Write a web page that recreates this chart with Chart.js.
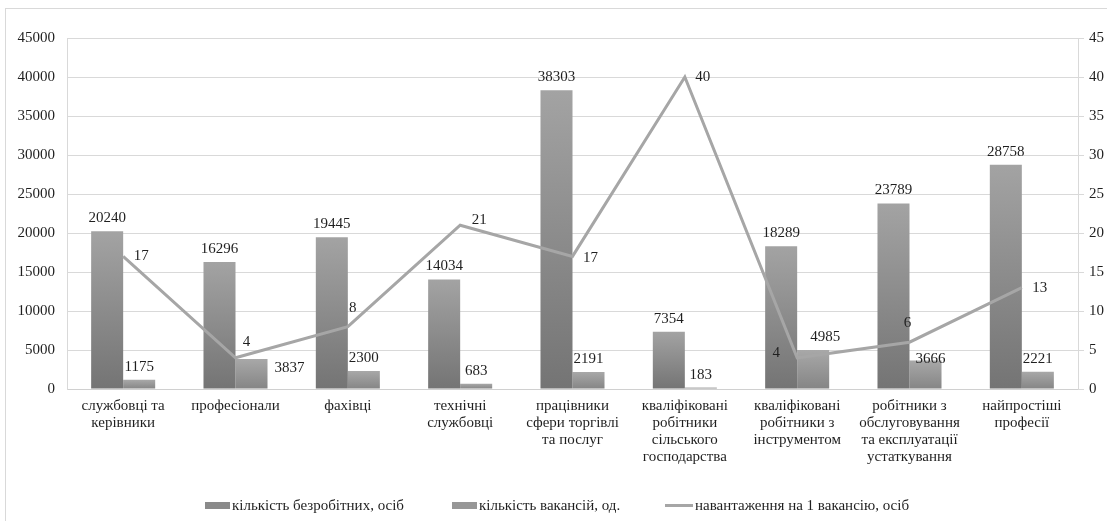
<!DOCTYPE html>
<html lang="uk">
<head>
<meta charset="utf-8">
<title>Безробітні та вакансії за професійними групами</title>
<script src="https://cdn.jsdelivr.net/npm/chart.js@4/dist/chart.umd.min.js"></script>
<style>
  html, body { margin: 0; padding: 0; background: #fff; }
  body { width: 1107px; height: 521px; position: relative; overflow: hidden; }
  #frame { position: absolute; left: 5px; top: 8px; width: 1120px; height: 530px;
           border: 1px solid #d9d9d9; box-sizing: border-box; }
  #wrap { position: absolute; left: 0; top: 0; width: 1107px; height: 521px; }
  #legend { position: absolute; left: 0; top: 495px; width: 1107px; height: 20px;
            font-family: "Liberation Serif", "Times New Roman", serif; font-size: 15px; color: #1f1f1f;
            white-space: nowrap; }
  .item { position: absolute; top: 0; display: flex; align-items: center; height: 20px; }
  .sw { display: inline-block; width: 25px; height: 7px; margin-right: 2px; }
  .ln { display: inline-block; width: 28px; height: 3px; margin-right: 2px; background: #a6a6a6; }
</style>
</head>
<body>
<div id="frame"></div>
<div id="wrap"><canvas id="chart" width="1107" height="521"></canvas></div>
<div id="legend"></div>
<script>
// Професійні групи
const categories = [
  ["службовці та", "керівники"],
  ["професіонали"],
  ["фахівці"],
  ["технічні", "службовці"],
  ["працівники", "сфери торгівлі", "та послуг"],
  ["кваліфіковані", "робітники", "сільського", "господарства"],
  ["кваліфіковані", "робітники з", "інструментом"],
  ["робітники з", "обслуговування", "та експлуатації", "устаткування"],
  ["найпростіші", "професії"]
];

// Кількість безробітних, осіб
const unemployed = [20240, 16296, 19445, 14034, 38303, 7354, 18289, 23789, 28758];
// Кількість вакансій, од.
const vacancies = [1175, 3837, 2300, 683, 2191, 183, 4985, 3666, 2221];
// Навантаження на 1 вакансію, осіб
const loadPerVacancy = [17, 4, 8, 21, 17, 40, 4, 6, 13];

// Шкали
const leftTicks = [0, 5000, 10000, 15000, 20000, 25000, 30000, 35000, 40000, 45000];
const rightTicks = [0, 5, 10, 15, 20, 25, 30, 35, 40, 45];

const seriesNames = ["кількість безробітних, осіб", "кількість вакансій, од.", "навантаження на 1 вакансію, осіб"];

// Зсуви підписів окремих значень (px), щоб вони не накладалися
const labelShift = {
  1: { 1: [38, 22], 6: [12, 0], 7: [5, 12] },
  2: { 1: [-7, -16], 2: [-13, -19], 3: [1, -5], 4: [0, 2], 6: [-39, -5], 7: [-20, -19] }
};

const FONT = "'Liberation Serif', 'Times New Roman', serif";
const TEXT = "#1f1f1f";

// Вертикальний градієнт для кожного стовпчика: світліший угорі, темніший унизу
function barGradient(top, bottom) {
  return function (c) {
    const chart = c.chart;
    if (!chart.chartArea || c.type !== 'data') return bottom;
    const y = chart.scales.y;
    const yTop = y.getPixelForValue(c.raw);
    const yBase = y.getPixelForValue(0);
    if (!isFinite(yTop) || Math.abs(yBase - yTop) < 1) return bottom;
    const g = chart.ctx.createLinearGradient(0, yTop, 0, yBase);
    g.addColorStop(0, top);
    g.addColorStop(1, bottom);
    return g;
  };
}

const valueLabels = {
  id: 'valueLabels',
  afterDatasetsDraw(chart) {
    const ctx = chart.ctx;
    ctx.save();
    ctx.font = "15px " + FONT;
    ctx.fillStyle = TEXT;
    ctx.textAlign = 'center';
    ctx.textBaseline = 'middle';
    chart.data.datasets.forEach((ds, di) => {
      const meta = chart.getDatasetMeta(di);
      meta.data.forEach((el, i) => {
        const shift = (labelShift[di] && labelShift[di][i]) || [0, 0];
        let x, y;
        if (ds.type === 'line') {
          x = el.x + 18 + shift[0];
          y = el.y + shift[1];
        } else {
          x = el.x + shift[0];
          y = el.y - 13 + shift[1];
        }
        ctx.fillText(String(ds.data[i]), x, y);
      });
    });
    ctx.restore();
  }
};

const plainNumber = v => String(v);

const chart = new Chart(document.getElementById('chart'), {
  data: {
    labels: categories,
    datasets: [
      {
        type: 'bar',
        label: seriesNames[0],
        data: unemployed,
        yAxisID: 'y',
        order: 1,
        backgroundColor: barGradient('#a3a3a3', '#747474'),
        categoryPercentage: 0.57,
        barPercentage: 1.0
      },
      {
        type: 'bar',
        label: seriesNames[1],
        data: vacancies,
        yAxisID: 'y',
        order: 1,
        backgroundColor: barGradient('#a8a8a8', '#858585'),
        categoryPercentage: 0.57,
        barPercentage: 1.0
      },
      {
        type: 'line',
        label: seriesNames[2],
        data: loadPerVacancy,
        yAxisID: 'y1',
        order: 0,
        borderColor: '#a6a6a6',
        borderWidth: 3,
        pointRadius: 0,
        pointHoverRadius: 0,
        tension: 0,
        fill: false
      }
    ]
  },
  options: {
    responsive: false,
    animation: false,
    layout: { padding: { left: 0, right: 0, top: 38, bottom: 32 } },
    plugins: {
      legend: { display: false },
      tooltip: { enabled: false }
    },
    scales: {
      x: {
        grid: { display: false, drawTicks: false },
        border: { display: true, color: '#d0d0d0', width: 1 },
        ticks: {
          autoSkip: false,
          maxRotation: 0,
          minRotation: 0,
          padding: 9,
          color: TEXT,
          font: { family: FONT, size: 15, lineHeight: '17px' }
        },
        afterFit(scale) { scale.height = 100; }
      },
      y: {
        position: 'left',
        min: leftTicks[0],
        max: leftTicks[leftTicks.length - 1],
        afterBuildTicks(scale) { scale.ticks = leftTicks.map(v => ({ value: v })); },
        grid: { color: '#d9d9d9', lineWidth: 1, drawTicks: false },
        border: { display: true, color: '#d9d9d9' },
        ticks: {
          padding: 12,
          color: TEXT,
          font: { family: FONT, size: 15 },
          callback: plainNumber
        },
        afterFit(scale) { scale.width = 67; }
      },
      y1: {
        position: 'right',
        min: rightTicks[0],
        max: rightTicks[rightTicks.length - 1],
        afterBuildTicks(scale) { scale.ticks = rightTicks.map(v => ({ value: v })); },
        grid: { drawOnChartArea: false, drawTicks: true, tickLength: 6, color: '#d9d9d9' },
        border: { display: true, color: '#d9d9d9' },
        ticks: {
          padding: 5,
          color: TEXT,
          font: { family: FONT, size: 15 },
          callback: plainNumber
        },
        afterFit(scale) { scale.width = 29; }
      }
    }
  },
  plugins: [valueLabels]
});

// Легенда
const legend = document.getElementById('legend');
const swatches = ['#8a8a8a', '#979797', null];
const legendLeft = [205, 452, 665];
seriesNames.forEach((name, i) => {
  const item = document.createElement('span');
  item.className = 'item';
  item.style.left = legendLeft[i] + 'px';
  const mark = document.createElement('span');
  if (swatches[i]) {
    mark.className = 'sw';
    mark.style.background = swatches[i];
  } else {
    mark.className = 'ln';
  }
  const txt = document.createElement('span');
  txt.textContent = name;
  item.appendChild(mark);
  item.appendChild(txt);
  legend.appendChild(item);
});
</script>
</body>
</html>
